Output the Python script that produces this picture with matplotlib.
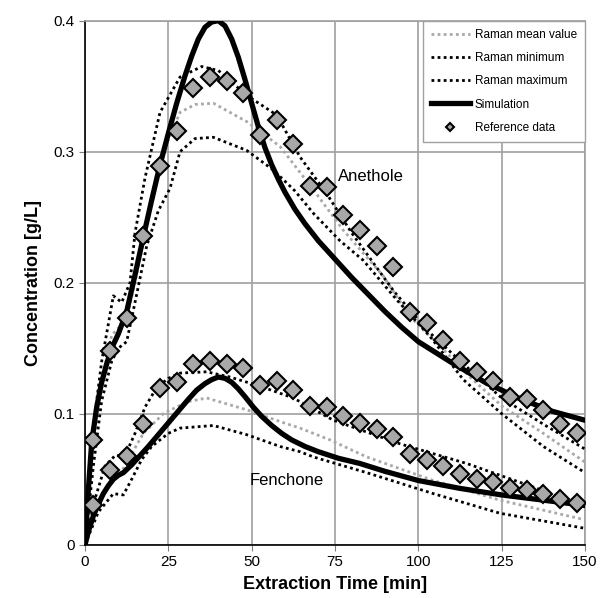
import matplotlib.pyplot as plt
from matplotlib.lines import Line2D

plt.rcParams["font.family"] = ["Liberation Sans", "DejaVu Sans"]

# reference data (every 5 min, starting at 2.5 min)
ref_t = [2.5, 7.5, 12.5, 17.5, 22.5, 27.5, 32.5, 37.5, 42.5, 47.5, 52.5, 57.5, 62.5, 67.5, 72.5,
         77.5, 82.5, 87.5, 92.5, 97.5, 102.5, 107.5, 112.5, 117.5, 122.5, 127.5, 132.5, 137.5, 142.5, 147.5]
ref_anethole = [0.080, 0.148, 0.173, 0.236, 0.289, 0.316, 0.349, 0.357, 0.354, 0.345, 0.313, 0.324,
                0.306, 0.274, 0.273, 0.252, 0.240, 0.228, 0.212, 0.178, 0.169, 0.156, 0.140, 0.132,
                0.125, 0.113, 0.111, 0.103, 0.092, 0.085]
ref_fenchone = [0.030, 0.057, 0.068, 0.092, 0.120, 0.124, 0.138, 0.140, 0.138, 0.135, 0.122, 0.125,
                0.118, 0.106, 0.105, 0.098, 0.093, 0.088, 0.082, 0.069, 0.065, 0.060, 0.054, 0.050,
                0.048, 0.043, 0.042, 0.039, 0.035, 0.032]

# simulation
sim_a_t = [0, 1, 2, 3.5, 5, 6.5, 8, 10, 12.5, 15, 17.5, 20, 22.5, 25, 27.5, 30, 32, 34, 36, 38,
           40, 42, 44, 46, 48, 50, 52, 54, 56, 58, 60, 63, 66, 70, 75, 80, 85, 90, 95, 100,
           110, 120, 130, 140, 150]
sim_a = [0, 0.042, 0.078, 0.105, 0.124, 0.138, 0.150, 0.161, 0.178, 0.206, 0.235, 0.263, 0.290,
         0.314, 0.337, 0.358, 0.373, 0.386, 0.395, 0.399, 0.400, 0.396, 0.386, 0.372, 0.355,
         0.337, 0.319, 0.303, 0.290, 0.279, 0.269, 0.256, 0.245, 0.232, 0.218, 0.204, 0.191,
         0.178, 0.166, 0.155, 0.139, 0.124, 0.112, 0.102, 0.095]
sim_f_t = [0, 1, 2.5, 4, 5.5, 7, 8.5, 10, 11.5, 14, 16.5, 19, 22, 25, 28, 31, 33.5, 36, 38,
           40, 42, 44, 46, 48, 50.5, 53, 56, 59, 62, 66, 70, 76, 82.5, 90, 100, 112.5, 125,
           137.5, 150]
sim_f = [0, 0.010, 0.022, 0.031, 0.039, 0.045, 0.050, 0.053, 0.055, 0.061, 0.068, 0.075, 0.084,
         0.093, 0.102, 0.111, 0.118, 0.123, 0.126, 0.128, 0.127, 0.124, 0.119, 0.113, 0.105,
         0.098, 0.091, 0.085, 0.080, 0.075, 0.071, 0.066, 0.062, 0.056, 0.049, 0.043, 0.038,
         0.034, 0.030]

# Raman anethole
ram_a_max_t = [0, 2, 5, 8.5, 11, 13.5, 15, 18, 22.5, 28.5, 35, 40, 48.5, 57.5, 64.5, 72.5, 80,
               92.5, 102.5, 113.5, 125, 137.5, 150]
ram_a_max = [0, 0.080, 0.140, 0.190, 0.185, 0.200, 0.238, 0.280, 0.330, 0.357, 0.365, 0.362,
             0.343, 0.328, 0.296, 0.268, 0.238, 0.194, 0.164, 0.138, 0.112, 0.092, 0.073]
ram_a_mean_t = [0, 2.5, 5, 8, 12.5, 17.5, 20, 24.5, 28.5, 33, 38.5, 48.5, 58.5, 68.5, 77.5, 89.5,
                97.5, 107.5, 115.5, 125, 137.5, 150]
ram_a_mean = [0, 0.070, 0.125, 0.160, 0.172, 0.230, 0.265, 0.306, 0.330, 0.336, 0.337, 0.323,
              0.304, 0.271, 0.240, 0.205, 0.174, 0.149, 0.128, 0.106, 0.085, 0.063]
ram_a_min_t = [0, 2.5, 5, 8, 10, 12.5, 15, 18.5, 22, 25.5, 28.5, 33, 38.5, 48.5, 56.5, 63, 68.5,
               76.5, 83.5, 93.5, 103.5, 113.5, 125, 137.5, 150]
ram_a_min = [0, 0.060, 0.110, 0.140, 0.150, 0.155, 0.185, 0.228, 0.255, 0.272, 0.300, 0.310,
             0.311, 0.301, 0.286, 0.270, 0.253, 0.232, 0.217, 0.187, 0.159, 0.126, 0.100, 0.075, 0.055]

# Raman fenchone
ram_f_max_t = [0, 3, 6, 9, 12, 15, 18, 21.5, 25, 28.5, 36.5, 43.5, 52.5, 62.5, 74.5, 94.5,
               114.5, 134.5, 150]
ram_f_max = [0, 0.035, 0.060, 0.068, 0.068, 0.085, 0.105, 0.120, 0.127, 0.131, 0.132, 0.128,
             0.121, 0.112, 0.095, 0.077, 0.062, 0.044, 0.029]
ram_f_mean_t = [0, 3, 7, 11, 17.5, 23.5, 30.5, 36.5, 48.5, 58.5, 64.5, 73.5, 84.5, 104.5, 124.5, 150]
ram_f_mean = [0, 0.025, 0.045, 0.056, 0.085, 0.100, 0.109, 0.112, 0.103, 0.094, 0.089, 0.080,
              0.067, 0.049, 0.034, 0.019]
ram_f_min_t = [0, 4, 8.5, 11.5, 14, 17, 20, 25, 28.5, 38.5, 48.5, 58.5, 64.5, 68.5, 84.5, 104.5,
               124.5, 150]
ram_f_min = [0, 0.025, 0.039, 0.038, 0.050, 0.065, 0.075, 0.085, 0.089, 0.091, 0.084, 0.075,
             0.071, 0.067, 0.055, 0.039, 0.024, 0.0125]

GRAY = "#a8a8a8"
DOT = (0, (1, 1.2))

fig = plt.figure(figsize=(6.0, 5.98), dpi=100)
ax = fig.add_axes([0.1417, 0.0891, 0.8333, 0.8763])

for t, v in [(ram_a_mean_t, ram_a_mean), (ram_f_mean_t, ram_f_mean)]:
    ax.plot(t, v, color=GRAY, lw=2.0, ls=DOT, zorder=3)
for t, v in [(ram_a_min_t, ram_a_min), (ram_a_max_t, ram_a_max),
             (ram_f_min_t, ram_f_min), (ram_f_max_t, ram_f_max)]:
    ax.plot(t, v, color="black", lw=2.0, ls=DOT, zorder=3)
ax.plot(sim_a_t, sim_a, color="black", lw=3.8, zorder=4, solid_joinstyle="round")
ax.plot(sim_f_t, sim_f, color="black", lw=3.8, zorder=4, solid_joinstyle="round")
for v in (ref_anethole, ref_fenchone):
    ax.plot(ref_t, v, ls="none", marker="D", ms=9, mfc=GRAY, mec="black", mew=1.5, zorder=5)

ax.text(76, 0.281, "Anethole", fontsize=12, va="center")
ax.text(49.5, 0.049, "Fenchone", fontsize=12, va="center")

ax.set_xlim(0, 150)
ax.set_ylim(0, 0.4)
ax.set_xticks([0, 25, 50, 75, 100, 125, 150])
ax.set_yticks([0, 0.1, 0.2, 0.3, 0.4])
ax.set_yticklabels(["0", "0.1", "0.2", "0.3", "0.4"])
ax.grid(True, color="#a0a0a0", lw=1.2)
ax.set_axisbelow(True)
ax.tick_params(labelsize=11, direction="out", length=4, color="#808080")
for side in ("top", "right"):
    ax.spines[side].set_color("#a0a0a0")
    ax.spines[side].set_linewidth(1.2)
for side in ("left", "bottom"):
    ax.spines[side].set_color("black")
    ax.spines[side].set_linewidth(1.2)
ax.set_xlabel("Extraction Time [min]", fontsize=13, fontweight="bold", labelpad=5)
ax.set_ylabel("Concentration [g/L]", fontsize=13, fontweight="bold", labelpad=8)

handles = [
    Line2D([], [], color=GRAY, lw=2.0, ls=DOT),
    Line2D([], [], color="black", lw=2.0, ls=DOT),
    Line2D([], [], color="black", lw=2.0, ls=DOT),
    Line2D([], [], color="black", lw=3.8),
    Line2D([], [], ls="none", marker="D", ms=4.5, mfc=GRAY, mec="black", mew=1.5),
]
labels = ["Raman mean value", "Raman minimum", "Raman maximum", "Simulation", "Reference data"]
leg = ax.legend(handles, labels, loc="upper right", fontsize=8.5, handlelength=3.3,
                borderaxespad=0, fancybox=False, framealpha=1, edgecolor="#a0a0a0",
                labelspacing=0.95, handletextpad=0.4, borderpad=0.7)
leg.get_frame().set_linewidth(1.0)

fig.savefig("out.png", dpi=100, facecolor="white")
